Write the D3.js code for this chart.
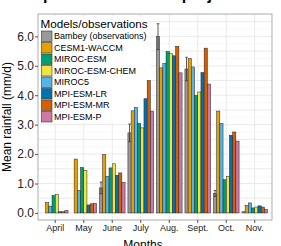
<!DOCTYPE html>
<html>
<head>
<meta charset="utf-8">
<script src="https://cdn.jsdelivr.net/npm/d3@7"></script>
<style>
    body { margin: 0; background: #fff; }
    svg { display: block; font-family: "Liberation Sans", Arial, sans-serif; }
</style>
</head>
<body>
<svg class="chart" width="281" height="246"></svg>
<script>
var months = ["April", "May", "June", "July", "Aug.", "Sept.", "Oct.", "Nov."];
var yTicks = [0, 1, 2, 3, 4, 5, 6];

// legend order
var seriesNames = ["Bambey (observations)", "CESM1-WACCM", "MIROC-ESM", "MIROC-ESM-CHEM",
                   "MIROC5", "MPI-ESM-LR", "MPI-ESM-MR", "MPI-ESM-P"];
var seriesColors = ["#999999", "#E69F00", "#009E73", "#F0E442",
                    "#56B4E9", "#0072B2", "#D55E00", "#CC79A7"];
// order of the bars inside each month
var barOrder = ["Bambey (observations)", "CESM1-WACCM", "MIROC5", "MIROC-ESM",
                "MIROC-ESM-CHEM", "MPI-ESM-LR", "MPI-ESM-MR", "MPI-ESM-P"];

// mean rainfall (mm/d) per month
var bambey       = [0.00, 0.00, 0.85, 2.72, 5.99, 4.89, 0.66, 0.04];
var bambeyErr    = [0.00, 0.00, 0.20, 0.30, 0.44, 0.40, 0.10, 0.00];
var cesm1Waccm   = [0.35, 1.83, 1.98, 3.47, 4.93, 5.24, 3.46, 0.26];
var mirocEsm     = [0.59, 1.54, 1.53, 3.04, 5.48, 3.99, 1.13, 0.17];
var mirocEsmChem = [0.62, 1.45, 1.67, 2.89, 5.41, 4.11, 1.24, 0.20];
var miroc5       = [0.23, 0.76, 1.24, 3.58, 5.08, 4.96, 3.04, 0.34];
var mpiEsmLr     = [0.04, 0.27, 1.28, 3.88, 5.34, 4.77, 2.64, 0.24];
var mpiEsmMr     = [0.04, 0.31, 1.36, 4.50, 5.66, 5.60, 2.75, 0.20];
var mpiEsmP      = [0.08, 0.33, 1.04, 3.46, 4.76, 4.38, 2.44, 0.12];

var seriesValues = {
    "Bambey (observations)": bambey,
    "CESM1-WACCM": cesm1Waccm,
    "MIROC-ESM": mirocEsm,
    "MIROC-ESM-CHEM": mirocEsmChem,
    "MIROC5": miroc5,
    "MPI-ESM-LR": mpiEsmLr,
    "MPI-ESM-MR": mpiEsmMr,
    "MPI-ESM-P": mpiEsmP
};

var data = [];
months.forEach(function(m, i) {
    barOrder.forEach(function(s) {
        data.push({ month: m, series: s, value: seriesValues[s][i],
                    err: s === "Bambey (observations)" ? bambeyErr[i] : 0 });
    });
});

var panel = {left: 38, right: 272, top: 14, bottom: 220};

var svg = d3.select(".chart");
var color = d3.scaleOrdinal().domain(seriesNames).range(seriesColors);

var x = d3.scaleBand()
    .domain(months)
    .range([panel.left, panel.right])
    .paddingInner(0)
    .paddingOuter(0.105);
var xInner = d3.scaleBand()
    .domain(barOrder)
    .range([0, x.bandwidth() * 0.9]);
var y = d3.scaleLinear()
    .domain([-0.24, 6.76])
    .range([panel.bottom, panel.top]);

// title (mostly cut off at the top)
svg.append("text")
    .attr("x", 7.5)
    .attr("y", 0)
    .style("font-size", "16px")
    .style("font-weight", "bold")
    .text("Comparison of rainfall projections by month");

// grid
var g = svg.append("g");
g.append("rect")
    .attr("x", panel.left).attr("y", panel.top)
    .attr("width", panel.right - panel.left)
    .attr("height", panel.bottom - panel.top)
    .attr("fill", "#fff");
g.selectAll(".minor")
    .data(d3.range(-0.25, 6.76, 0.25).filter(function(v) { return Math.abs(v * 2 - Math.round(v * 2)) > 0.01; }))
    .enter().append("line")
    .attr("x1", panel.left).attr("x2", panel.right)
    .attr("y1", function(d) { return y(d); }).attr("y2", function(d) { return y(d); })
    .attr("stroke", "#f0f0f0").attr("stroke-width", 0.5);
g.selectAll(".major")
    .data(d3.range(0, 6.6, 0.5))
    .enter().append("line")
    .attr("x1", panel.left).attr("x2", panel.right)
    .attr("y1", function(d) { return y(d); }).attr("y2", function(d) { return y(d); })
    .attr("stroke", "#e4e4e4").attr("stroke-width", 0.8);
g.selectAll(".vgrid")
    .data(months)
    .enter().append("line")
    .attr("x1", function(d) { return x(d) + x.bandwidth() / 2; })
    .attr("x2", function(d) { return x(d) + x.bandwidth() / 2; })
    .attr("y1", panel.top).attr("y2", panel.bottom)
    .attr("stroke", "#e4e4e4").attr("stroke-width", 0.8);

// legend background hides the grid, bars are drawn over it
var legend = svg.append("g");
legend.append("rect")
    .attr("x", panel.left + 0.5).attr("y", 16)
    .attr("width", 112).attr("height", 107)
    .attr("fill", "#fff");

// bars
var groupOffset = x.bandwidth() * 0.05;
svg.append("g").selectAll("rect")
    .data(data)
    .enter().append("rect")
    .attr("x", function(d) { return x(d.month) + groupOffset + xInner(d.series); })
    .attr("width", xInner.bandwidth())
    .attr("y", function(d) { return y(d.value); })
    .attr("height", function(d) { return y(0) - y(d.value); })
    .attr("fill", function(d) { return color(d.series); })
    .attr("stroke", "#222")
    .attr("stroke-width", 0.5);

// error bars for the observations
var errData = data.filter(function(d) { return d.err > 0; });
var errG = svg.append("g").selectAll("g")
    .data(errData)
    .enter().append("g")
    .attr("transform", function(d) {
        return "translate(" + (x(d.month) + groupOffset + xInner(d.series) + xInner.bandwidth() / 2) + ",0)";
    });
errG.append("line")
    .attr("y1", function(d) { return y(d.value - d.err); })
    .attr("y2", function(d) { return y(d.value + d.err); })
    .attr("stroke", "#333").attr("stroke-width", 0.8);
errG.append("line")
    .attr("x1", -1.3).attr("x2", 1.3)
    .attr("y1", function(d) { return y(d.value + d.err); })
    .attr("y2", function(d) { return y(d.value + d.err); })
    .attr("stroke", "#333").attr("stroke-width", 0.8);
errG.append("line")
    .attr("x1", -1.3).attr("x2", 1.3)
    .attr("y1", function(d) { return y(d.value - d.err); })
    .attr("y2", function(d) { return y(d.value - d.err); })
    .attr("stroke", "#333").attr("stroke-width", 0.8);

// panel border
svg.append("rect")
    .attr("x", panel.left).attr("y", panel.top)
    .attr("width", panel.right - panel.left)
    .attr("height", panel.bottom - panel.top)
    .attr("fill", "none")
    .attr("stroke", "#9a9a9a")
    .attr("stroke-width", 0.8);

// axes
var yAxis = d3.axisLeft(y)
    .tickValues(yTicks)
    .tickSize(3)
    .tickFormat(d3.format(".1f"));
var yAxisG = svg.append("g")
    .attr("class", "y axis")
    .attr("transform", "translate(" + panel.left + ",0)")
    .call(yAxis);
yAxisG.select(".domain").remove();
yAxisG.selectAll("line").attr("stroke", "#555");
yAxisG.selectAll("text")
    .attr("x", -4)
    .style("font-size", "12px")
    .style("font-family", "Liberation Sans, Arial, sans-serif")
    .attr("fill", "#222");

var xAxis = d3.axisBottom(x).tickSize(3);
var xAxisG = svg.append("g")
    .attr("class", "x axis")
    .attr("transform", "translate(0," + panel.bottom + ")")
    .call(xAxis);
xAxisG.select(".domain").remove();
xAxisG.selectAll("line").attr("stroke", "#555");
xAxisG.selectAll("text")
    .attr("y", 5)
    .style("font-size", "9px")
    .style("font-family", "Liberation Sans, Arial, sans-serif")
    .attr("fill", "#222");

// axis titles
svg.append("text")
    .attr("transform", "translate(11," + ((panel.top + panel.bottom) / 2) + ") rotate(-90)")
    .attr("text-anchor", "middle")
    .style("font-size", "12px")
    .text("Mean rainfall (mm/d)");
svg.append("text")
    .attr("x", 143)
    .attr("y", 249)
    .attr("text-anchor", "middle")
    .style("font-size", "12px")
    .text("Months");

// legend keys and labels
legend.append("text")
    .attr("x", 40.5)
    .attr("y", 28.3)
    .style("font-size", "11.7px")
    .text("Models/observations");
var item = legend.selectAll(".item")
    .data(seriesNames)
    .enter().append("g")
    .attr("transform", function(d, i) { return "translate(0," + (36 + i * 11.5) + ")"; });
item.append("rect")
    .attr("x", 41.5).attr("y", -5)
    .attr("width", 10.5).attr("height", 10.5)
    .attr("fill", function(d) { return color(d); })
    .attr("stroke", "#333")
    .attr("stroke-width", 0.6);
item.append("text")
    .attr("x", 54)
    .attr("y", 3.3)
    .style("font-size", "9px")
    .text(function(d) { return d; });
</script>
</body>
</html>
